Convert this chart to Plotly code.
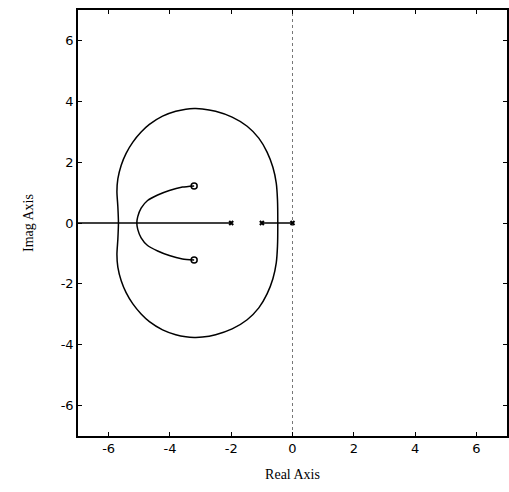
import plotly.graph_objects as go

# Outer locus (upper half), mirrored for lower half
outer_x = [-5.68, -5.70, -5.73, -5.70, -5.59, -5.43, -5.21, -4.94, -4.67, -4.24,
           -3.81, -3.48, -3.21, -2.94, -2.51, -1.97, -1.48, -1.10, -0.83, -0.64,
           -0.53, -0.49, -0.48]
outer_y = [0.00, 0.54, 1.03, 1.45, 1.90, 2.29, 2.66, 2.99, 3.24, 3.51,
           3.67, 3.74, 3.76, 3.75, 3.67, 3.48, 3.18, 2.79, 2.33, 1.83,
           1.31, 0.76, 0.00]

# Inner locus (upper half) from break-away point to zero
inner_x = [-5.08, -5.05, -4.94, -4.73, -4.40, -4.02, -3.59, -3.21]
inner_y = [0.00, 0.21, 0.49, 0.74, 0.92, 1.07, 1.18, 1.22]

# Real-axis segments
seg1_x = [-7.0, -2.0]
seg2_x = [-1.0, 0.0]

poles_x = [0.0, -1.0, -2.0]
poles_y = [0.0, 0.0, 0.0]
zeros_x = [-3.21, -3.21]
zeros_y = [1.22, -1.22]

tick_vals = [-6, -4, -2, 0, 2, 4, 6]
tick_text = ["-6", "-4", "-2", "0", "2", "4", "6"]
axis_lim = [-7, 7]

fig = go.Figure()

line = dict(color="black", width=1.5)
curve = dict(color="black", width=1.5, shape="spline", smoothing=0.6)

# dotted imaginary axis
fig.add_trace(go.Scatter(x=[0, 0], y=axis_lim, mode="lines",
                         line=dict(color="#777", width=1, dash="dot"), hoverinfo="skip"))

full_outer_x = outer_x + outer_x[::-1][1:]
full_outer_y = outer_y + [-v for v in outer_y[::-1]][1:]
fig.add_trace(go.Scatter(x=full_outer_x, y=full_outer_y, mode="lines", line=curve))
fig.add_trace(go.Scatter(x=inner_x[::-1] + inner_x[1:],
                         y=inner_y[::-1] + [-v for v in inner_y[1:]],
                         mode="lines", line=curve))
fig.add_trace(go.Scatter(x=seg1_x, y=[0, 0], mode="lines", line=line))
fig.add_trace(go.Scatter(x=seg2_x, y=[0, 0], mode="lines", line=line))
fig.add_trace(go.Scatter(x=poles_x, y=poles_y, mode="markers",
                         marker=dict(symbol="x-thin", size=4, line=dict(color="black", width=2))))
fig.add_trace(go.Scatter(x=zeros_x, y=zeros_y, mode="markers",
                         marker=dict(symbol="circle-open", size=6, color="black",
                                     line=dict(color="black", width=1.5))))

axis_common = dict(range=axis_lim, tickvals=tick_vals, ticktext=tick_text,
                   showgrid=False, zeroline=False, showline=True, linecolor="black",
                   linewidth=1.6, mirror="ticks", ticks="inside", ticklen=4,
                   tickcolor="black", tickwidth=1,
                   tickfont=dict(family="DejaVu Sans", size=13, color="black"))

fig.update_layout(
    width=509, height=492,
    margin=dict(l=78, r=0, t=10, b=56),
    paper_bgcolor="white", plot_bgcolor="white",
    showlegend=False,
    xaxis=dict(**axis_common,
               title=dict(text="Real Axis", standoff=14,
                          font=dict(family="Liberation Serif", size=14, color="black"))),
    yaxis=dict(**axis_common,
               title=dict(text="Imag Axis", standoff=24,
                          font=dict(family="Liberation Serif", size=14, color="black"))),
)

fig.write_html("out.html")
